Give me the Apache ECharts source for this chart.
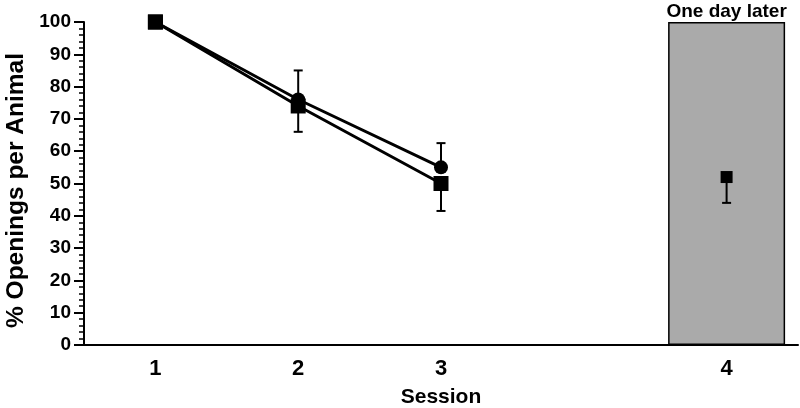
<!DOCTYPE html>
<html>
<head>
<meta charset="utf-8">
<script src="https://cdn.jsdelivr.net/npm/echarts@6/dist/echarts.min.js"></script>
<style>html,body{margin:0;padding:0;background:#fff;}#c{width:800px;height:408px;}</style>
</head>
<body>
<div id="c"></div>
<script>
const sessions = ['1', '2', '3', '', '4'];
const circleMean = [100, 76, 55, null, null];
const circleUpper = [null, 85, 62.5, null, null];
const squareMean = [100, 74, 50, null, null];
const squareLower = [null, 66, 41.5, null, null];
const laterMean = [null, null, null, null, 52];
const laterLower = [null, null, null, null, 44];
const laterBar = [null, null, null, null, 100];
const laterLabel = 'One day later';
const yName = '% Openings per Animal';
const xName = 'Session';

const FONT = '"Liberation Sans", Arial, Helvetica, sans-serif';

function errData(mean, bound) {
  const out = [];
  sessions.forEach((s, i) => {
    if (mean[i] != null && bound[i] != null) out.push([i, mean[i], bound[i]]);
  });
  return out;
}

function errRender(params, api) {
  const x = api.value(0), m = api.value(1), b = api.value(2);
  const p0 = api.coord([x, m]);
  const p1 = api.coord([x, b]);
  const hw = 4.5;
  return {
    type: 'group',
    children: [
      { type: 'line', shape: { x1: p0[0], y1: p0[1], x2: p1[0], y2: p1[1] }, style: { stroke: '#000', lineWidth: 2 } },
      { type: 'line', shape: { x1: p1[0] - hw, y1: p1[1], x2: p1[0] + hw, y2: p1[1] }, style: { stroke: '#000', lineWidth: 2 } }
    ]
  };
}

const chart = echarts.init(document.getElementById('c'), null, { renderer: 'canvas' });
chart.setOption({
  animation: false,
  backgroundColor: '#fff',
  textStyle: { fontFamily: FONT },
  grid: { left: 84, right: 2, top: 22, bottom: 63, containLabel: false, outerBoundsMode: 'none' },
  xAxis: {
    type: 'category',
    data: sessions,
    boundaryGap: true,
    name: xName,
    nameLocation: 'middle',
    nameGap: 42,
    nameTextStyle: { fontFamily: FONT, fontSize: 21, fontWeight: 'bold', color: '#000' },
    axisLine: { lineStyle: { color: '#000', width: 2 } },
    axisTick: { alignWithLabel: true, length: 8, lineStyle: { color: '#000', width: 2 },
      interval: function (index, value) { return value !== ''; } },
    axisLabel: { fontFamily: FONT, fontSize: 22, fontWeight: 'bold', color: '#000', margin: 13 },
    splitLine: { show: false }
  },
  yAxis: {
    type: 'value',
    min: 0,
    max: 100,
    interval: 10,
    name: yName,
    nameLocation: 'middle',
    nameRotate: 90,
    nameGap: 51,
    nameTextStyle: { fontFamily: FONT, fontSize: 24.5, fontWeight: 'bold', color: '#000', padding: [0, 14, 0, 0] },
    axisLine: { show: true, lineStyle: { color: '#000', width: 2 } },
    axisTick: { show: true, length: 10, lineStyle: { color: '#000', width: 2 } },
    minorTick: { show: true, splitNumber: 5, length: 5, lineStyle: { color: '#000', width: 1.5 } },
    axisLabel: { fontFamily: FONT, fontSize: 19, fontWeight: 'bold', color: '#000', margin: 13 },
    splitLine: { show: false }
  },
  series: [
    {
      name: 'bar', type: 'bar', data: laterBar, barWidth: 117, z: 1,
      itemStyle: { color: '#aaaaaa', borderColor: '#000', borderWidth: 1.5 },
      label: { show: true, position: 'top', distance: 1, formatter: laterLabel,
        fontFamily: FONT, fontSize: 19, fontWeight: 'bold', color: '#000' }
    },
    {
      name: 'circleErr', type: 'custom', renderItem: errRender, data: errData(circleMean, circleUpper), z: 3
    },
    {
      name: 'squareErr', type: 'custom', renderItem: errRender, data: errData(squareMean, squareLower), z: 3
    },
    {
      name: 'laterErr', type: 'custom', renderItem: errRender, data: errData(laterMean, laterLower), z: 3
    },
    {
      name: 'square', type: 'line', data: squareMean, symbol: 'rect', symbolSize: 15, z: 4,
      lineStyle: { color: '#000', width: 3 }, itemStyle: { color: '#000', opacity: 1 }
    },
    {
      name: 'circle', type: 'line', data: circleMean, symbol: 'circle', symbolSize: 14, z: 5,
      lineStyle: { color: '#000', width: 3 }, itemStyle: { color: '#000', opacity: 1 }
    },
    {
      name: 'squareTop', type: 'scatter', data: [squareMean[0], null, null, null, null], symbol: 'rect', symbolSize: 15, z: 6,
      itemStyle: { color: '#000', opacity: 1 }
    },
    {
      name: 'later', type: 'scatter', data: laterMean, symbol: 'rect', symbolSize: 12, z: 6,
      itemStyle: { color: '#000', opacity: 1 }
    }
  ]
});
</script>
</body>
</html>
